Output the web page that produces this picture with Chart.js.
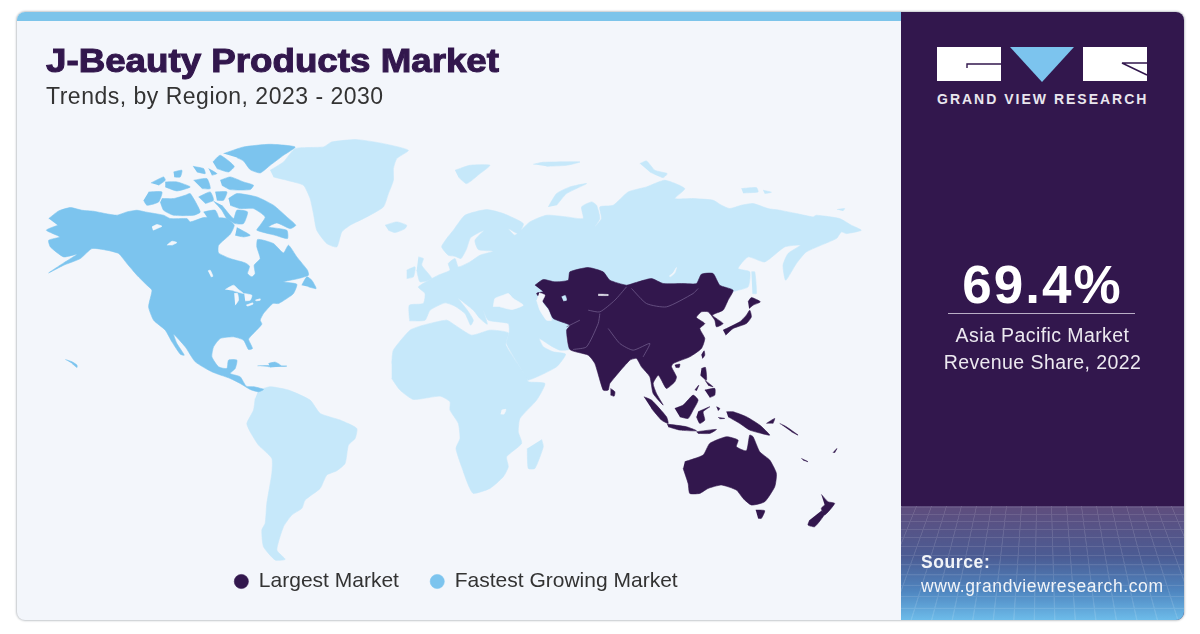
<!DOCTYPE html>
<html>
<head>
<meta charset="utf-8">
<title>J-Beauty Products Market</title>
<script src="https://cdn.jsdelivr.net/npm/chart.js@4"></script>
<style>
html, body { margin: 0; padding: 0; background: #fff; width: 1200px; height: 634px; overflow: hidden; }
body { font-family: "Liberation Sans", sans-serif; position: relative; }
.card { position: absolute; left: 17px; top: 12px; width: 1167px; height: 608px; background: #f3f6fb; border-radius: 8px; box-shadow: 0 0 2px 1px #c4c8cc; overflow: hidden; }
.topbar { position: absolute; left: 0; top: 0; width: 884px; height: 9px; background: #7cc4ea; }
#wrap { position: absolute; left: 12px; top: 0; width: 888px; height: 602px; }
#chart-map { position: absolute; left: 0; top: 0; filter: blur(0.35px); }
.title { position: absolute; left: 46px; top: 41px; font-size: 34px; font-weight: bold; color: #32174d; -webkit-text-stroke: 1.1px #32174d; white-space: nowrap; transform: scaleX(1.08); transform-origin: 0 0; }
.sub { position: absolute; left: 46px; top: 83px; font-size: 23px; color: #333; letter-spacing: 0.5px; white-space: nowrap; }
.side { position: absolute; left: 901px; top: 12px; width: 283px; height: 608px; background: #32174d; border-radius: 0 8px 8px 0; overflow: hidden; color: #fff; }
.mesh { position: absolute; left: 0; top: 494px; width: 283px; height: 114px; background: linear-gradient(#5f4d7d 0%, #4b5c94 45%, #4f86c0 75%, #6dbcea 100%); overflow: hidden; }
.grid { position: absolute; left: -150px; top: 0; width: 583px; height: 200px; transform-origin: 50% 0; transform: perspective(260px) rotateX(40deg); opacity: .11;
  background-image: repeating-linear-gradient(0deg, #fff 0 1px, transparent 1px 9px), repeating-linear-gradient(90deg, #fff 0 1px, transparent 1px 15px); }
.brand { position: absolute; left: 36px; top: 79px; font-size: 14px; font-weight: bold; letter-spacing: 2px; white-space: nowrap; color: #e9e6ee; }
.big { position: absolute; left: 0; width: 283px; text-align: center; top: 243px; font-size: 53px; font-weight: bold; letter-spacing: 2px; line-height: 60px; }
.rule { position: absolute; left: 47px; top: 301px; width: 187px; height: 1px; background: #b9aec6; }
.share { position: absolute; left: 0; width: 283px; text-align: center; top: 310px; font-size: 19.5px; line-height: 27px; color: #ece9f0; letter-spacing: 0.42px; }
.src { position: absolute; left: 20px; top: 538px; font-size: 17.5px; line-height: 24px; color: #f2f4f8; white-space: nowrap; letter-spacing: 0.6px; }
.src b { display: block; }
svg { position: absolute; left: 36px; top: 35px; }
</style>
</head>
<body>
<div class="card"><div class="topbar"></div></div>
<div id="wrap"><canvas id="chart-map" width="888" height="602"></canvas></div>
<div class="title">J-Beauty Products Market</div>
<div class="sub">Trends, by Region, 2023 - 2030</div>
<div class="side">
  <svg width="212" height="36" viewBox="0 0 212 36">
    <rect x="0" y="0" width="64" height="34" fill="#fff"/>
    <path d="M64 17 H30 V21" stroke="#32174d" stroke-width="1.4" fill="none"/>
    <polygon points="73,0 137,0 105,35" fill="#7cc4ee"/>
    <rect x="146" y="0" width="64" height="34" fill="#fff"/>
    <path d="M210 28 L185 16 H210" stroke="#32174d" stroke-width="1.4" fill="none"/>
  </svg>
  <div class="brand">GRAND VIEW RESEARCH</div>
  <div class="big">69.4%</div>
  <div class="rule"></div>
  <div class="share">Asia Pacific Market<br>Revenue Share, 2022</div>
  <div class="mesh"><div class="grid"></div></div>
  <div class="src"><b>Source:</b>www.grandviewresearch.com</div>
</div>
<script>
// ten nhan chu giai
var legendNames = ["Largest Market", "Fastest Growing Market"];

var colorLargest = "#32174d";
var colorFastest = "#7cc4ee";
var colorOther = "#c6e8fa";
var colorWater = "#f3f6fb";
var colorBorder = "#6f5a8a";

// outlines, numbers are 3x zoom crop units
var cropNA = [30, 130];
var cropEU = [380, 150];
var cropAP = [520, 260];
var cropSA = [220, 360];

var northAmerica = [55,265, 85,242, 120,232, 155,240, 190,243, 225,250, 260,255, 290,245, 320,240, 345,245, 400,255, 420,265, 470,265, 480,275, 520,262, 545,262, 590,265, 612,285, 600,312, 565,345, 565,368, 600,385, 645,398, 658,408, 652,430, 665,440, 675,430, 672,405, 690,385, 680,350, 682,328, 700,330, 730,340, 760,368, 775,345, 800,380, 832,420, 835,435, 805,445, 760,455, 800,462, 790,490, 770,505, 745,520, 728,520, 700,550, 690,570, 695,582, 660,620, 655,628, 667,655, 655,658, 640,630, 610,620, 570,625, 550,650, 545,680, 565,710, 590,715, 595,690, 620,690, 615,715, 600,730, 630,740, 648,768, 672,770, 700,778, 685,785, 660,778, 630,760, 600,745, 545,725, 495,695, 465,650, 430,612, 440,640, 462,675, 450,672, 425,635, 405,600, 370,570, 355,530, 365,480, 350,465, 320,435, 290,400, 265,370, 230,360, 185,355, 150,385, 100,405, 55,428, 100,398, 140,372, 100,380, 60,350, 55,330, 88,320, 48,300, 82,285];
var newfoundland = [815,465, 830,440, 845,450, 858,475, 835,470];
var ellesmere = [580,70, 640,50, 720,42, 795,50, 760,75, 720,105, 690,128, 660,118, 640,92, 620,82];
var heiberg = [548,95, 570,75, 612,108, 595,125, 560,115];
var devon = [570,150, 600,140, 640,155, 670,165, 660,178, 600,178, 575,165];
var bathurst = [488,108, 520,115, 525,130, 500,125];
var cornwallis = [535,115, 560,130, 545,135];
var prinz = [430,125, 455,120, 450,140, 432,140];
var mackenzie = [362,158, 400,140, 405,150, 385,165];
var melville = [405,155, 440,155, 480,170, 440,182, 405,170];
var byam = [490,150, 530,145, 540,175, 515,175];
var banks = [355,185, 395,185, 385,215, 350,225, 340,210];
var victoria = [395,205, 430,205, 465,195, 480,190, 510,245, 490,255, 430,255, 400,240, 390,215];
var princeWales = [505,200, 540,185, 550,210, 525,220];
var somerset = [555,185, 590,185, 580,210, 560,210];
var baffin = [595,205, 620,190, 680,200, 730,225, 770,260, 797,285, 780,295, 740,278, 715,290, 770,300, 772,325, 735,315, 680,300, 690,285, 705,260, 670,235, 630,235, 600,225];
var boothia = [550,212, 575,240, 590,265, 615,280, 640,280, 652,245, 620,240, 610,265, 575,225];
var kingWilliam = [520,245, 555,240, 565,265, 535,268];
var southampton = [620,292, 660,315, 640,320, 615,315];
var cuba = [682,707, 715,706, 770,708, 715,710];
var hispaniola = [715,700, 735,696, 752,706, 720,711];
var hawaii = [105,688, 125,695, 140,705, 140,712, 125,700];

var eurasia = [88,505, 88,465, 130,460, 135,430, 115,410, 175,375, 210,360, 205,340, 225,325, 235,350, 270,335, 300,315, 340,303, 295,298, 285,270, 312,240, 272,262, 260,295, 243,325, 225,318, 205,315, 185,290, 200,265, 220,240, 255,195, 320,178, 370,190, 430,220, 415,250, 385,235, 405,255, 450,215, 500,195, 560,200, 610,205, 605,170, 635,155, 650,165, 660,205, 645,230, 665,205, 660,170, 700,165, 745,125, 800,110, 855,90, 915,115, 885,145, 940,145, 1000,150, 1025,165, 1050,175, 1085,165, 1120,160, 1165,175, 1200,180, 1250,190, 1300,200, 1310,195, 1380,205, 1415,225, 1445,240, 1400,250, 1385,245, 1370,265, 1280,305, 1250,340, 1218,390, 1210,345, 1225,310, 1262,285, 1215,290, 1155,335, 1105,320, 1075,355, 1110,365, 1105,410, 1060,425, 1000,470, 700,480, 560,560, 568,597, 540,600, 510,585, 478,565, 490,590, 520,605, 557,612, 530,650, 445,690, 432,670, 380,580, 388,545, 385,520, 325,510, 310,480, 322,522, 300,505, 280,480, 235,445, 262,480, 280,510, 272,525, 255,490, 225,468, 195,458, 150,480, 135,510, 88,512];
var sakhalin = [1115,365, 1125,365, 1130,430, 1118,430];
var greenland = [720,120, 760,95, 795,55, 880,50, 905,35, 980,28, 1060,40, 1135,60, 1100,85, 1090,115, 1090,150, 1075,190, 1060,230, 1010,260, 960,285, 935,305, 920,350, 890,340, 860,300, 850,250, 840,205, 820,165, 770,150, 730,140];
var iceland = [1065,285, 1100,275, 1130,285, 1125,295, 1095,307, 1075,300];
var svalbard = [225,60, 270,45, 330,45, 300,70, 260,100, 235,80];
var franzJosef = [460,42, 490,36, 600,35, 560,45, 500,48];
var novaya = [505,170, 530,130, 570,110, 620,100, 560,130, 530,165];
var severnaya = [780,40, 800,32, 825,60, 862,70, 850,82, 810,65];
var newSiberia = [1085,115, 1130,112, 1135,125, 1090,128];
var newSiberia2 = [1150,120, 1175,126, 1155,130];
var wrangel = [1372,178, 1395,175, 1390,182];
var ireland = [80,360, 105,350, 100,380, 80,385];
var britain = [115,320, 130,325, 125,345, 155,385, 120,395, 110,360];

var africa = [515,10, 520,-30, 570,-90, 610,-105, 680,-120, 705,-105, 755,-75, 810,-90, 865,-82, 858,-45, 920,50, 925,65, 975,70, 950,120, 900,175, 895,215, 905,250, 860,290, 865,320, 850,350, 810,385, 760,400, 745,375, 725,320, 708,265, 720,235, 715,190, 690,150, 690,125, 660,108, 580,118, 540,90, 515,55];
var madagascar = [965,238, 970,260, 945,325, 925,325, 922,265];
var southAmerica = [115,90, 150,80, 205,90, 270,120, 300,160, 360,180, 410,205, 405,235, 385,255, 375,310, 350,332, 320,345, 300,385, 255,420, 245,445, 215,465, 190,500, 170,570, 195,598, 165,600, 130,560, 125,510, 135,490, 140,430, 155,340, 155,295, 115,255, 90,215, 80,190, 100,150, 105,115];

var asiaMain = [45,75, 70,58, 105,65, 145,60, 150,35, 205,22, 250,35, 270,60, 320,75, 345,68, 395,55, 430,70, 490,70, 530,70, 545,42, 580,40, 600,75, 640,90, 625,120, 610,150, 578,165, 610,190, 590,200, 585,180, 565,155, 545,155, 530,172, 555,190, 540,205, 555,235, 545,265, 510,290, 460,310, 455,320, 470,350, 465,365, 440,385, 425,360, 415,345, 400,370, 410,400, 430,435, 400,400, 390,350, 365,320, 350,295, 330,300, 270,370, 265,390, 250,390, 225,310, 205,285, 150,268, 140,210, 150,195, 100,175, 85,145, 50,100, 70,95];
var sriLanka = [272,385, 285,395, 283,408, 272,405];
var honshu = [610,210, 660,185, 680,165, 690,150, 695,170, 680,190, 640,205, 618,225];
var hokkaido = [685,125, 695,112, 722,125, 700,135, 688,145];
var taiwan = [545,285, 553,272, 555,285, 548,295];
var hainan = [465,315, 480,312, 478,322, 468,322];
var luzon = [545,325, 557,322, 560,360, 542,345];
var visayas = [555,360, 580,380, 565,375];
var mindanao = [555,390, 585,385, 585,405, 570,412];
var palawan = [525,390, 537,375, 530,392];
var borneo = [465,445, 490,435, 520,405, 535,420, 520,450, 505,475, 480,470];
var sulawesi = [535,455, 570,440, 550,455, 555,480, 540,490, 530,470];
var sumatra = [372,410, 395,420, 440,470, 445,490, 425,480, 395,445];
var java = [442,492, 500,500, 530,512, 480,510, 445,500];
var sunda = [530,515, 590,508, 570,520, 535,520];
var moluccas = [590,440, 600,445, 595,452];
var seram = [595,472, 615,475, 600,476];
var newGuinea = [620,455, 640,455, 680,470, 720,495, 750,525, 725,520, 690,510, 660,490, 625,470];
var newBritain = [740,490, 765,475, 760,490];
var solomon = [780,490, 800,500, 835,525, 815,515];
var caledonia = [845,595, 865,605, 850,600];
var vanuatu = [940,578, 952,565, 945,578];
var australia = [495,605, 550,585, 570,550, 620,530, 655,540, 650,560, 680,572, 690,525, 700,530, 720,575, 750,600, 770,640, 765,680, 735,725, 695,735, 670,715, 650,690, 605,675, 565,685, 540,700, 510,700, 505,670, 490,625];
var tasmania = [708,750, 735,752, 725,775, 715,775];
var nzNorth = [905,703, 925,725, 945,730, 915,765, 905,745, 915,735];
var nzSouth = [905,752, 915,762, 885,800, 865,795, 870,780];

// lakes and seas cut out of the land
var bearLake = [365,290, 380,283, 395,288, 378,296, 368,300];
var slaveLake = [410,345, 425,333, 440,337, 425,345];
var winnipeg = [533,422, 540,420, 548,438, 542,440];
var superior = [585,478, 610,465, 625,478, 640,490, 610,482];
var michigan = [612,490, 622,490, 625,510, 615,525];
var huron = [642,490, 665,495, 660,510, 645,512];
var erie = [648,525, 668,518, 668,522, 652,528];
var ontario = [675,510, 690,506, 690,510, 678,512];
var blackSea = [340,470, 345,445, 370,435, 385,430, 400,445, 430,465, 395,478, 360,470];
var caspian = [478,428, 495,435, 487,455, 505,480, 515,510, 500,510, 480,480, 470,450];
var baikal = [868,378, 880,368, 890,352, 885,368, 872,380];
var balkhash = [655,432, 685,433, 685,436, 655,436];
var aral = [545,440, 556,436, 560,450, 550,452];
var victoriaLake = [845,150, 858,148, 852,162, 842,162];

// thin country lines inside Asia Pacific
var borderA = [320,80, 285,120, 240,155, 205,150];
var borderB = [335,85, 380,130, 440,140, 520,100, 535,85];
var borderC = [265,205, 300,250, 340,270, 390,250, 370,290];
var borderD = [240,160, 235,190, 200,260, 160,268];
var borderE = [180,180, 140,200];

function trace(crop, flat) {
    var pts = [];
    for (var i = 0; i < flat.length; i += 2) {
        pts.push({ x: crop[0] + flat[i] / 3, y: crop[1] + flat[i + 1] / 3 });
    }
    return pts;
}

function shape(points, color, label) {
    return {
        label: label,
        data: points,
        showLine: true,
        fill: "shape",
        backgroundColor: color,
        borderColor: color,
        borderWidth: 0.6,
        pointRadius: 0,
        pointHoverRadius: 0,
        pointStyle: "circle",
        tension: 0.18
    };
}

function line(points) {
    return { data: points, showLine: true, fill: false, borderColor: colorBorder, borderWidth: 0.8, pointRadius: 0, tension: 0.2 };
}

var datasets = [];
// index 0 is painted last, so water and borders go first
[borderA, borderB, borderC, borderD, borderE].forEach(function (b) { datasets.push(line(trace(cropAP, b))); });
[bearLake, slaveLake, winnipeg, superior, michigan, huron, erie, ontario].forEach(function (l) { datasets.push(shape(trace(cropNA, l), colorWater)); });
[blackSea, caspian, baikal].forEach(function (l) { datasets.push(shape(trace(cropEU, l), colorWater)); });
[balkhash, aral].forEach(function (l) { datasets.push(shape(trace(cropEU, l), l === aral ? colorOther : colorWater)); });
datasets.push(shape(trace(cropSA, victoriaLake), colorWater));

datasets.push(shape(trace(cropAP, asiaMain), colorLargest, legendNames[0]));
[sriLanka, honshu, hokkaido, taiwan, hainan, luzon, visayas, mindanao, palawan, borneo, sulawesi, sumatra, java, sunda, moluccas, seram, newGuinea, newBritain, solomon, caledonia, vanuatu, australia, tasmania, nzNorth, nzSouth].forEach(function (p) {
    datasets.push(shape(trace(cropAP, p), colorLargest));
});

datasets.push(shape(trace(cropNA, northAmerica), colorFastest, legendNames[1]));
[newfoundland, ellesmere, heiberg, devon, bathurst, cornwallis, prinz, mackenzie, melville, byam, banks, victoria, princeWales, somerset, baffin, boothia, kingWilliam, southampton, cuba, hispaniola, hawaii].forEach(function (p) {
    datasets.push(shape(trace(cropNA, p), colorFastest));
});

[eurasia, sakhalin, svalbard, franzJosef, novaya, severnaya, newSiberia, newSiberia2, wrangel, ireland, britain].forEach(function (p) {
    datasets.push(shape(trace(cropEU, p), colorOther));
});
[greenland, iceland].forEach(function (p) { datasets.push(shape(trace(cropNA, p), colorOther)); });
[africa, madagascar, southAmerica].forEach(function (p) { datasets.push(shape(trace(cropSA, p), colorOther)); });

var ctx = document.getElementById("chart-map").getContext("2d");
var chart_map = new Chart(ctx, {
    type: "scatter",
    data: { datasets: datasets },
    options: {
        responsive: false,
        animation: false,
        events: [],
        layout: { padding: 0 },
        scales: {
            x: { type: "linear", display: false, min: 12, max: 900 },
            y: { type: "linear", display: false, min: 0, max: 600, reverse: true }
        },
        plugins: {
            tooltip: { enabled: false },
            legend: {
                position: "bottom",
                labels: {
                    usePointStyle: true,
                    boxHeight: 10,
                    boxWidth: 14,
                    padding: 8,
                    color: "#333",
                    font: { family: "Liberation Sans", size: 21 },
                    filter: function (item) { return !!item.text; },
                    // small padding keeps South America inside the chart area, spaces keep the two items apart
                    generateLabels: function (chart) {
                        var items = Chart.defaults.plugins.legend.labels.generateLabels(chart);
                        items.forEach(function (item) {
                            if (item.text === legendNames[0]) item.text += "\u00a0\u00a0\u00a0\u00a0";
                        });
                        return items;
                    }
                }
            }
        }
    }
});

// one axis unit = one pixel of the picture
chart_map.options.scales.y.max = chart_map.chartArea.bottom;
chart_map.update();
</script>
</body>
</html>
